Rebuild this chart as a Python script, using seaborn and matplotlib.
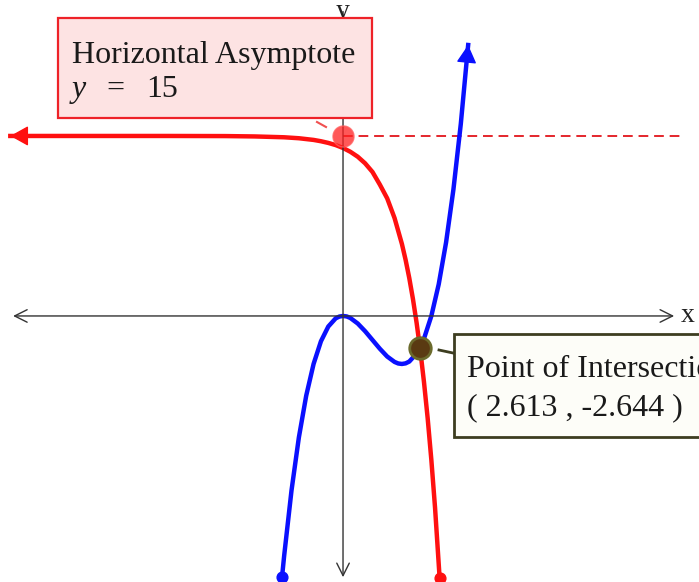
import matplotlib
matplotlib.use("Agg")
import matplotlib.pyplot as plt
from matplotlib.patches import Rectangle
import seaborn as sns

# %% data
blue_x = [-2.07, -2.0, -1.75, -1.5, -1.25, -1.0, -0.75, -0.5, -0.25, -0.125, 0.0, 0.125, 0.25, 0.5, 0.75,
          1.0, 1.25, 1.5, 1.75, 1.875, 2.0, 2.125, 2.25, 2.5, 2.75, 3.0, 3.25, 3.5, 3.75, 4.0, 4.25]
blue_y = [-21.72, -20.0, -14.55, -10.13, -6.64, -4.0, -2.11, -0.88, -0.20, -0.05, 0.0, -0.04, -0.17, -0.63, -1.27,
          -2.0, -2.73, -3.38, -3.83, -3.96, -4.0, -3.95, -3.80, -3.13, -1.89, 0.0, 2.64, 6.13, 10.55, 16.0, 22.58]

red_x = [-11.3, -8.0, -6.0, -4.0, -3.0, -2.0, -1.5, -1.0, -0.75, -0.5, -0.25, 0.0, 0.25, 0.5, 0.75,
         1.0, 1.25, 1.5, 1.75, 2.0, 2.125, 2.25, 2.375, 2.5, 2.625, 2.75, 2.875, 3.0, 3.125, 3.28]
red_y = [15.0, 15.0, 15.0, 14.99, 14.96, 14.89, 14.81, 14.67, 14.56, 14.42, 14.24, 14.0, 13.68, 13.27, 12.72,
         12.0, 10.95, 9.80, 8.16, 6.0, 4.68, 3.16, 1.41, -0.59, -2.88, -5.52, -8.53, -12.0, -15.97, -21.8]

asymptote_y = 15
asymptote_x = [0.0, 11.44]
point_x, point_y = 2.613, -2.644

W, H = 699, 582


def fx(p):
    return p / W


def fy(p):
    return 1 - p / H


# %% figure
fig = plt.figure(figsize=(W / 100, H / 100), dpi=100)
ax = fig.add_axes([0, 0, 1, 1])
ax.set_xlim(-11.65, 12.09)
ax.set_ylim(-22.17, 26.33)
ax.set_axis_off()

serif = "Liberation Serif"
fs = 23

# axes with open arrow heads
ax.annotate("", xy=(11.34, 0), xytext=(-11.3, 0),
            arrowprops=dict(arrowstyle="<->,head_length=0.9,head_width=0.45", color="#333333", lw=1))
ax.annotate("", xy=(0, -22.0), xytext=(0, 25.6),
            arrowprops=dict(arrowstyle="->,head_length=0.9,head_width=0.45", color="#333333", lw=1))
fig.text(fx(681), fy(316), "x", fontfamily=serif, fontsize=20, va="center", color="#222222")
fig.text(fx(343), fy(12), "y", fontfamily=serif, fontsize=20, va="center", ha="center", color="#222222")

# asymptote
ax.plot(asymptote_x, [asymptote_y] * 2, color="#e4262c", lw=1.4, ls=(0, (5, 3)))

# curves
sns.lineplot(x=red_x, y=red_y, color="#ff1010", lw=3.2, sort=False, ax=ax)
sns.lineplot(x=blue_x, y=blue_y, color="#0a10ff", lw=3.2, sort=False, ax=ax)

# curve ends
head = dict(arrowstyle="-|>,head_length=0.45,head_width=0.25", mutation_scale=25, lw=1,
            shrinkA=0, shrinkB=0)
ax.annotate("", xy=(red_x[0], red_y[0]), xytext=(red_x[1], red_y[1]),
            arrowprops=dict(color="#ff1010", **head))
ax.annotate("", xy=(blue_x[-1], blue_y[-1]), xytext=(blue_x[-2], blue_y[-2]),
            arrowprops=dict(color="#0a10ff", **head))
ax.scatter([red_x[-1]], [red_y[-1]], s=60, color="#ff1010", zorder=4)
ax.scatter([blue_x[0]], [blue_y[0]], s=60, color="#0a10ff", zorder=4)

# highlighted points
ax.scatter([0], [asymptote_y], s=230, color="#ff2020", alpha=0.75, edgecolor="#ff6060", zorder=5)
ax.scatter([point_x], [point_y], s=240, color="#5a3a12", edgecolor="#6b6a2c", lw=2, zorder=5)

# red label box
ax.plot([fx(317), fx(326)], [fy(122), fy(127)], color="#f05050", lw=1.5, transform=fig.transFigure)
fig.patches.append(Rectangle((fx(58), fy(118)), fx(372) - fx(58), fy(18) - fy(118),
                             transform=fig.transFigure, facecolor="#fde3e3", edgecolor="#ee2228",
                             lw=1.6, zorder=6))
fig.text(fx(72), fy(63), "Horizontal Asymptote", fontfamily=serif, fontsize=fs, color="#1a1a1a", zorder=7)
fig.text(fx(72), fy(97), "y", fontfamily=serif, style="italic", fontsize=fs, color="#1a1a1a", zorder=7)
fig.text(fx(106), fy(97), "=", fontfamily=serif, fontsize=fs, color="#1a1a1a", zorder=7)
fig.text(fx(146), fy(97), "15", fontfamily=serif, fontsize=fs, color="#1a1a1a", zorder=7)

# olive label box
ax.plot([fx(439), fx(453)], [fy(350), fy(353)], color="#3d3d20", lw=2, transform=fig.transFigure)
fig.patches.append(Rectangle((fx(454), fy(437)), 1.05 - fx(454), fy(334) - fy(437),
                             transform=fig.transFigure, facecolor="#fdfdf8", edgecolor="#3d3d20",
                             lw=2, zorder=6))
fig.text(fx(467), fy(377), "Point of Intersection", fontfamily=serif, fontsize=fs, color="#1a1a1a", zorder=7)
fig.text(fx(467), fy(415), "( %.3f , %.3f )" % (point_x, point_y), fontfamily=serif, fontsize=fs,
         color="#1a1a1a", zorder=7)

fig.savefig("out.png", dpi=100)
